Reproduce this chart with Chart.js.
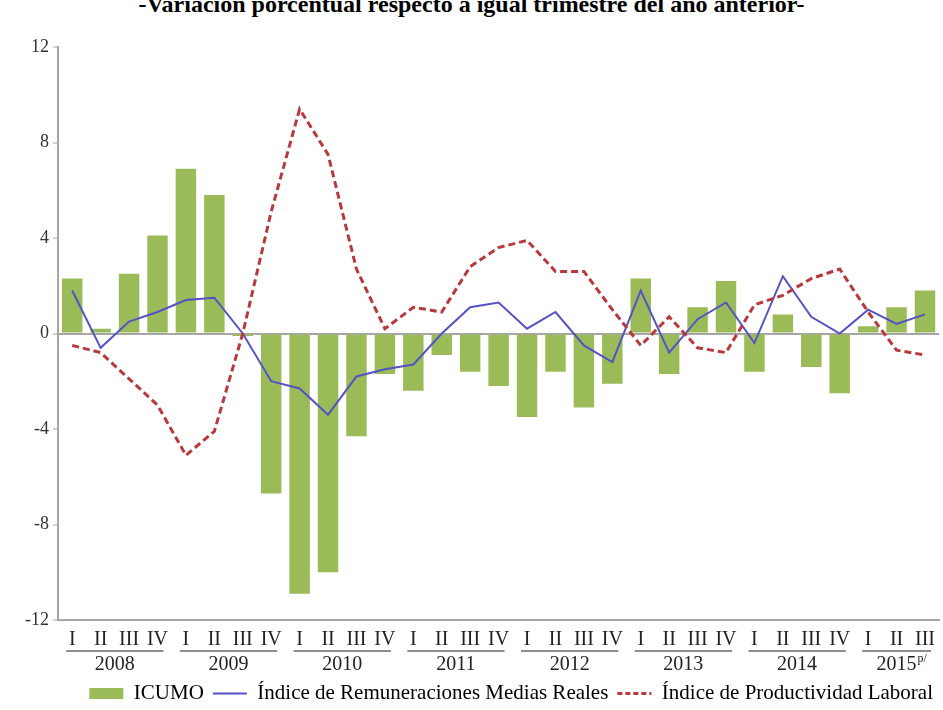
<!DOCTYPE html>
<html>
<head>
<meta charset="utf-8">
<script src="https://cdn.jsdelivr.net/npm/chart.js@4.4.1/dist/chart.umd.min.js"></script>
<style>
html,body{margin:0;padding:0;background:#fff;}
#wrap{position:relative;width:943px;height:710px;overflow:hidden;}
#title{position:absolute;left:0;top:-9px;width:943px;text-align:center;font:bold 24px "Liberation Serif",serif;color:#000;white-space:nowrap;}
#chart{position:absolute;left:0;top:0;}
</style>
</head>
<body>
<div id="wrap">
  <div id="title">-Variación porcentual respecto a igual trimestre del año anterior-</div>
  <canvas id="chart" width="943" height="710"></canvas>
</div>
<script>
const years=['2008','2009','2010','2011','2012','2013','2014','2015'];
const quarters=['I','II','III','IV'];
const quartersPerYear=[4,4,4,4,4,4,4,3];

const icumo=[2.3,0.2,2.5,4.1, 6.9,5.8,-0.1,-6.7, -10.9,-10.0,-4.3,-1.7, -2.4,-0.9,-1.6,-2.2,
  -3.5,-1.6,-3.1,-2.1, 2.3,-1.7,1.1,2.2, -1.6,0.8,-1.4,-2.5, 0.3,1.1,1.8];
const remuneraciones=[1.8,-0.6,0.5,0.9, 1.4,1.5,0.0,-2.0, -2.3,-3.4,-1.8,-1.5, -1.3,0.0,1.1,1.3,
  0.2,0.9,-0.5,-1.2, 1.8,-0.8,0.6,1.3, -0.4,2.4,0.7,0.0, 1.0,0.4,0.8];
const productividad=[-0.5,-0.8,-1.9,-3.0, -5.1,-4.1,0.0,5.1, 9.4,7.5,2.7,0.2, 1.1,0.9,2.8,3.6,
  3.9,2.6,2.6,1.0, -0.5,0.7,-0.6,-0.8, 1.2,1.6,2.3,2.7, 0.9,-0.7,-0.9];
const yMin=-12, yMax=12, yStep=4;

const GREEN='#9bbb59', BLUE='#5353c4', RED='#b8393c';
const SERIF='"Liberation Serif","Times New Roman",serif';

// one label per quarter, e.g. "2008 I"
const labels=[];
years.forEach((y,i)=>{ for(let q=0;q<quartersPerYear[i];q++) labels.push(y+' '+quarters[q]); });

const yearAxis={
  id:'yearAxis',
  afterDraw(chart){
    const ctx=chart.ctx, xs=chart.scales.x, b=chart.chartArea.bottom;
    ctx.save();
    ctx.font='20px '+SERIF;
    ctx.fillStyle='#222';
    ctx.textAlign='center';
    ctx.textBaseline='middle';
    let idx=0;
    years.forEach((yr,i)=>{
      const n=quartersPerYear[i];
      const x0=xs.getPixelForValue(idx), x1=xs.getPixelForValue(idx+n-1);
      ctx.strokeStyle='#8f8f8f'; ctx.lineWidth=2;
      ctx.beginPath(); ctx.moveTo(x0-6,b+31); ctx.lineTo(x1+6,b+31); ctx.stroke();
      ctx.fillText(yr,(x0+x1)/2,b+45);
      if(i===years.length-1){
        const w=ctx.measureText(yr).width;
        ctx.font='12px '+SERIF;
        ctx.textAlign='left';
        ctx.fillText('p/',(x0+x1)/2+w/2+1,b+39);
      }
      idx+=n;
    });
    ctx.restore();
  }
};

new Chart(document.getElementById('chart'),{
  data:{
    labels:labels,
    datasets:[
      {type:'bar',label:'ICUMO',data:icumo,backgroundColor:GREEN,borderWidth:0,
        categoryPercentage:1,barPercentage:0.72,order:3},
      {type:'line',label:'Índice de Remuneraciones Medias Reales',data:remuneraciones,
        borderColor:BLUE,borderWidth:2,pointRadius:0,tension:0,fill:false,order:2},
      {type:'line',label:'Índice de Productividad Laboral',data:productividad,
        borderColor:RED,borderWidth:3,borderDash:[7,4],pointRadius:0,tension:0,fill:false,order:1}
    ]
  },
  options:{
    responsive:false,
    animation:false,
    layout:{padding:{top:47,left:0,right:1,bottom:-4}},
    plugins:{
      tooltip:{enabled:false},
      legend:{
        position:'bottom',
        align:'end',
        labels:{
          font:{family:SERIF,size:21},
          color:'#222',
          usePointStyle:true,
          pointStyleWidth:34,
          boxHeight:11,
          padding:9,
          generateLabels(chart){
            return [
              {text:'ICUMO',fillStyle:GREEN,strokeStyle:GREEN,lineWidth:0,pointStyle:'rect',datasetIndex:0},
              {text:'Índice de Remuneraciones Medias Reales',fillStyle:BLUE,strokeStyle:BLUE,lineWidth:2,pointStyle:'line',datasetIndex:1},
              {text:'Índice de Productividad Laboral',fillStyle:RED,strokeStyle:RED,lineWidth:3,lineDash:[5,3],pointStyle:'line',datasetIndex:2}
            ];
          }
        }
      }
    },
    scales:{
      x:{
        grid:{display:false,drawTicks:false},
        border:{display:true,color:'#a6a6a6',width:2},
        ticks:{
          font:{family:SERIF,size:20},color:'#222',padding:8,maxRotation:0,autoSkip:false,
          callback:(v,i)=>labels[i].split(' ')[1]
        },
        afterFit(s){ s.height=54; }
      },
      y:{
        min:yMin,max:yMax,
        ticks:{stepSize:yStep,font:{family:SERIF,size:18},color:'#333',padding:4},
        grid:{
          drawOnChartArea:true,
          color:c=>c.tick && c.tick.value===0 ? '#a6a6a6' : 'rgba(0,0,0,0)',
          lineWidth:2,
          tickColor:'#a6a6a6',tickLength:5,tickWidth:1
        },
        border:{display:true,color:'#a6a6a6',width:2},
        afterFit(s){ s.width=58; }
      }
    }
  },
  plugins:[yearAxis]
});
</script>
</body>
</html>
